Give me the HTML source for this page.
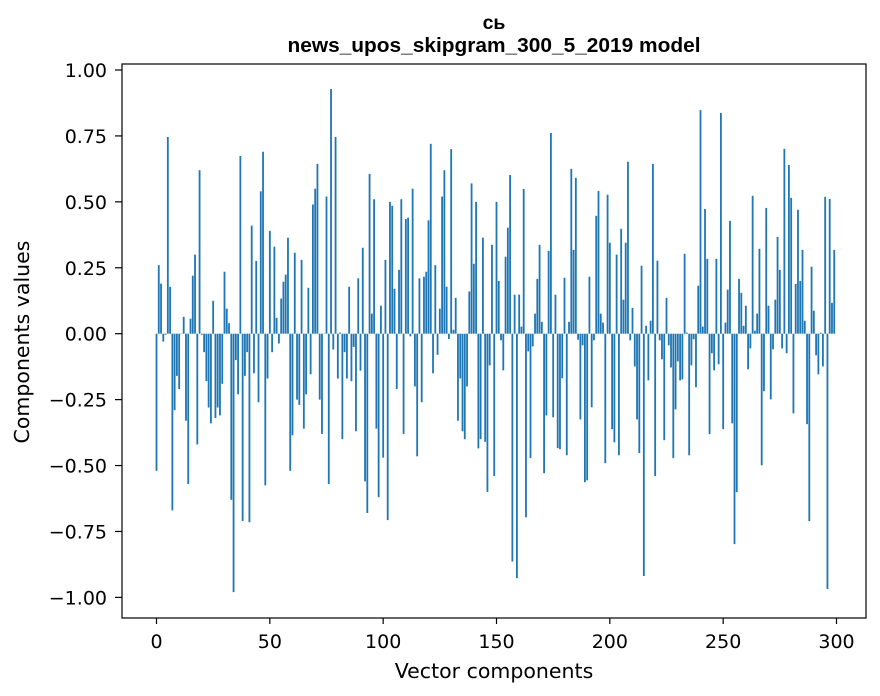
<!DOCTYPE html>
<html><head><meta charset="utf-8">
<style>
body{margin:0;background:#fff;}
svg{display:block;font-family:"DejaVu Sans","Liberation Sans",sans-serif;}
</style></head>
<body>
<svg id="chart" width="880" height="696" viewBox="0 0 880 696" xmlns="http://www.w3.org/2000/svg">
<rect width="880" height="696" fill="#fff"/>
<text x="494" y="29" text-anchor="middle" font-size="19.5" font-weight="bold" font-family="Liberation Sans, sans-serif">сь</text>
<text x="494" y="52" text-anchor="middle" font-size="20" font-weight="bold" font-family="Liberation Sans, sans-serif" textLength="413" lengthAdjust="spacingAndGlyphs">news_upos_skipgram_300_5_2019 model</text>
<g id="bars"></g>
<rect x="122" y="64" width="744" height="554" fill="none" stroke="#000" stroke-width="1.2"/>
<g id="xticks"></g>
<g id="yticks"></g>
<text x="494" y="678" text-anchor="middle" font-size="20.5">Vector components</text>
<text transform="translate(29,342) rotate(-90)" text-anchor="middle" font-size="20.5">Components values</text>
</svg>
<script>
const values = [
-0.52,0.26,0.19,-0.03,-0.004,0.746,0.178,-0.67,-0.29,-0.16,
-0.21,0,0.064,-0.33,-0.57,0.057,0.22,0.30,-0.42,0.62,
-0.004,-0.07,-0.18,-0.28,-0.34,0.125,-0.32,-0.28,-0.31,-0.19,
0.235,0.095,0.04,-0.63,-0.98,-0.10,-0.23,0.674,-0.71,-0.16,
-0.07,-0.715,0.41,-0.15,0.276,-0.26,0.54,0.69,-0.575,-0.17,
0.39,-0.07,0.33,0.06,-0.037,0.133,0.197,0.224,0.364,-0.52,
-0.385,0.307,-0.25,-0.27,0.28,-0.36,-0.23,0.174,-0.154,0.49,
0.55,0.644,-0.25,-0.38,0,0.52,-0.57,0.928,-0.06,0.746,
-0.17,0.004,-0.40,-0.07,-0.17,0.178,-0.18,-0.05,-0.37,0.21,
-0.14,0.326,-0.56,-0.68,0.606,0.076,0.51,-0.36,-0.62,0.106,
-0.47,0.28,-0.707,0.50,0.485,0.17,-0.21,0.242,0.51,-0.38,
0.435,0.44,-0.01,0.55,-0.2,-0.465,0.21,-0.26,0.216,0.235,
0.43,0.72,-0.15,0.26,-0.08,0.095,0.52,0.62,0.178,-0.02,
0.70,0.015,0.136,-0.33,-0.17,-0.37,-0.40,-0.2,0.16,0.57,
0.265,0.50,-0.435,-0.40,0.364,-0.41,-0.60,-0.12,0.337,-0.54,
0.50,0.2,-0.025,-0.139,0.292,0.402,0.602,-0.864,0.148,-0.927,
0.148,0.027,0.549,-0.696,-0.067,-0.472,-0.048,0.076,0.208,0.337,
0.045,-0.529,-0.31,0.314,0.761,-0.317,0.148,-0.434,-0.438,-0.169,
0.212,-0.461,0.045,0.625,0.318,0.591,-0.023,-0.325,-0.044,-0.563,
-0.556,0.216,-0.279,-0.025,0.447,0.541,0.076,0.042,-0.491,0.527,
0.345,-0.362,-0.412,0.3,-0.461,0.398,0.129,0.345,0.652,-0.025,
0.098,-0.124,-0.325,-0.453,0.258,-0.919,0.03,-0.177,0.049,0.644,
-0.54,0.277,-0.025,-0.097,-0.404,0.136,-0.044,-0.128,-0.472,-0.287,
-0.105,-0.177,-0.173,0.303,0.004,-0.461,-0.12,-0.021,-0.203,0.182,
0.848,0.027,0.473,0.284,-0.381,-0.074,-0.139,0.284,-0.116,0.837,
-0.362,0.042,0.167,0.428,-0.34,-0.798,-0.601,0.208,0.155,0.03,
0.106,-0.135,-0.056,0.523,0.011,0.076,0.322,-0.499,-0.218,0.477,
0.106,-0.249,-0.059,0.129,0.367,0.242,-0.056,0.701,-0.074,0.64,
0.515,-0.302,0.189,0.47,0.2,0.318,0.049,-0.343,-0.711,0.254,
0.087,-0.082,-0.154,0.004,-0.124,0.519,-0.968,0.511,0.117,0.318
];
const xTickValues = [0,50,100,150,200,250,300];
const yTickValues = [-1,-0.75,-0.5,-0.25,0,0.25,0.5,0.75,1];
const yTickLabels = ["\u22121.00","\u22120.75","\u22120.50","\u22120.25","0.00","0.25","0.50","0.75","1.00"];

const NS = "http://www.w3.org/2000/svg";
function xScale(v){ return 156.5 + v * (680/300); }
function yScale(v){ return 333.7 - v * 263.7; }
const barW = 0.8 * (680/300);

const bars = document.getElementById('bars');
values.forEach((v,i)=>{
  const r = document.createElementNS(NS,'rect');
  const y0 = yScale(0), y1 = yScale(v);
  r.setAttribute('x', xScale(i) - barW/2);
  r.setAttribute('y', Math.min(y0,y1));
  r.setAttribute('width', barW);
  r.setAttribute('height', Math.max(Math.abs(y1-y0),0.3));
  r.setAttribute('fill', '#1f77b4');
  
  
  bars.appendChild(r);
});

const xg = document.getElementById('xticks');
xTickValues.forEach(t=>{
  const x = xScale(t);
  const l = document.createElementNS(NS,'line');
  l.setAttribute('x1',x); l.setAttribute('x2',x);
  l.setAttribute('y1',618); l.setAttribute('y2',624);
  l.setAttribute('stroke','#000'); l.setAttribute('stroke-width','1.2');
  
  
  xg.appendChild(l);
  const tx = document.createElementNS(NS,'text');
  tx.setAttribute('x',x); tx.setAttribute('y',648);
  tx.setAttribute('text-anchor','middle'); tx.setAttribute('font-size','19');
  tx.textContent = String(t);
  
  
  xg.appendChild(tx);
});

const yg = document.getElementById('yticks');
yTickValues.forEach((t,i)=>{
  const y = yScale(t);
  const l = document.createElementNS(NS,'line');
  l.setAttribute('x1',115); l.setAttribute('x2',122);
  l.setAttribute('y1',y); l.setAttribute('y2',y);
  l.setAttribute('stroke','#000'); l.setAttribute('stroke-width','1.2');
  
  
  yg.appendChild(l);
  const tx = document.createElementNS(NS,'text');
  tx.setAttribute('x',107); tx.setAttribute('y',y+7);
  tx.setAttribute('text-anchor','end'); tx.setAttribute('font-size','19');
  tx.textContent = yTickLabels[i];
  
  
  yg.appendChild(tx);
});
</script>
</body></html>
